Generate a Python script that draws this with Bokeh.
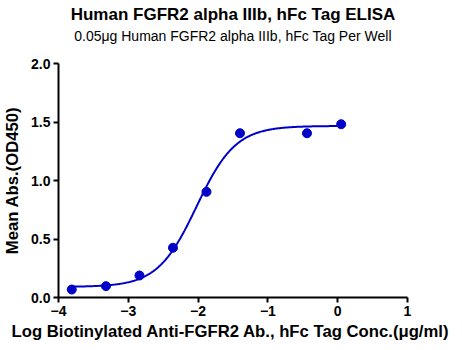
import numpy as np
from bokeh.plotting import figure
from bokeh.models import FixedTicker, PrintfTickFormatter, Title, Range1d
from bokeh.embed import file_html
from bokeh.resources import INLINE

# data
log_conc = [-3.81, -3.32, -2.84, -2.36, -1.88, -1.40, -0.44, 0.05]
od450 = [0.068, 0.097, 0.188, 0.425, 0.903, 1.404, 1.404, 1.481]
x_ticks = [-4, -3, -2, -1, 0, 1]
y_ticks = [0.0, 0.5, 1.0, 1.5, 2.0]

title_text = "Human FGFR2 alpha IIIb, hFc Tag ELISA"
subtitle_text = "0.05\u03bcg Human FGFR2 alpha IIIb, hFc Tag Per Well"
x_label = "Log Biotinylated  Anti-FGFR2 Ab., hFc Tag Conc.(\u03bcg/ml)"
y_label = "Mean Abs.(OD450)"

FONT = "Liberation Sans"
BLUE = "#0000C8"


def four_pl(x, p):
    b, t, c, h = p
    return b + (t - b) / (1.0 + 10.0 ** ((c - x) * h))


def fit_four_pl(x, y, p0):
    p = np.array(p0, dtype=float)
    lam = 1e-2
    for _ in range(300):
        r = y - four_pl(x, p)
        J = np.zeros((len(x), 4))
        for i in range(4):
            dp = np.zeros(4)
            dp[i] = 1e-6
            J[:, i] = (four_pl(x, p + dp) - four_pl(x, p - dp)) / 2e-6
        A = J.T @ J
        g = J.T @ r
        step = np.linalg.solve(A + lam * np.diag(np.diag(A)), g)
        pn = p + step
        if np.sum((y - four_pl(x, pn)) ** 2) < np.sum(r ** 2):
            p = pn
            lam *= 0.5
        else:
            lam *= 4
    return p


xa = np.array(log_conc)
ya = np.array(od450)
params = fit_four_pl(xa, ya, [0.08, 1.46, -2.0, 1.5])
xc = np.linspace(xa.min(), xa.max(), 300)
yc = four_pl(xc, params)

p = figure(width=462, height=350, output_backend="svg", toolbar_location=None,
           x_range=Range1d(-4, 1), y_range=Range1d(0, 2),
           min_border_left=58, min_border_right=55, min_border_top=63, min_border_bottom=53)
p.outline_line_color = None
p.grid.visible = False
p.background_fill_color = "white"
p.border_fill_color = "white"

p.line(xc, yc, line_color=BLUE, line_width=2)
p.scatter(log_conc, od450, size=9, fill_color=BLUE, line_color=BLUE)

for ax in (p.xaxis[0], p.yaxis[0]):
    ax.axis_line_width = 2
    ax.axis_line_color = "black"
    ax.major_tick_line_width = 2
    ax.major_tick_out = 5
    ax.major_tick_in = 0
    ax.minor_tick_line_color = None
    ax.major_label_text_font = FONT
    ax.major_label_text_font_style = "bold"
    ax.major_label_text_font_size = "14px"
    ax.major_label_text_color = "black"
    ax.axis_label_text_font = FONT
    ax.axis_label_text_font_style = "bold"
    ax.axis_label_text_font_size = "16.7px"
    ax.axis_label_text_color = "black"

p.xaxis[0].ticker = FixedTicker(ticks=x_ticks)
p.yaxis[0].ticker = FixedTicker(ticks=y_ticks)
p.yaxis[0].formatter = PrintfTickFormatter(format="%.1f")
p.xaxis[0].axis_label = x_label
p.yaxis[0].axis_label = y_label
p.xaxis[0].major_label_standoff = 3
p.xaxis[0].axis_label_standoff = 3
p.yaxis[0].major_label_standoff = 3
p.yaxis[0].axis_label_standoff = 6

p.title.text = title_text
p.title.text_font = FONT
p.title.text_font_style = "bold"
p.title.text_font_size = "17px"
p.title.text_color = "black"
p.title.align = "center"
p.title.standoff = 3

# empty spacer between the frame and the subtitle
p.add_layout(Title(text=" ", text_font_size="1px", standoff=17), "above")
p.add_layout(Title(text=subtitle_text, text_font=FONT, text_font_style="normal",
                   text_font_size="14px", text_color="black", align="center",
                   standoff=0), "above")

open("out.html", "w").write(file_html(p, INLINE))
